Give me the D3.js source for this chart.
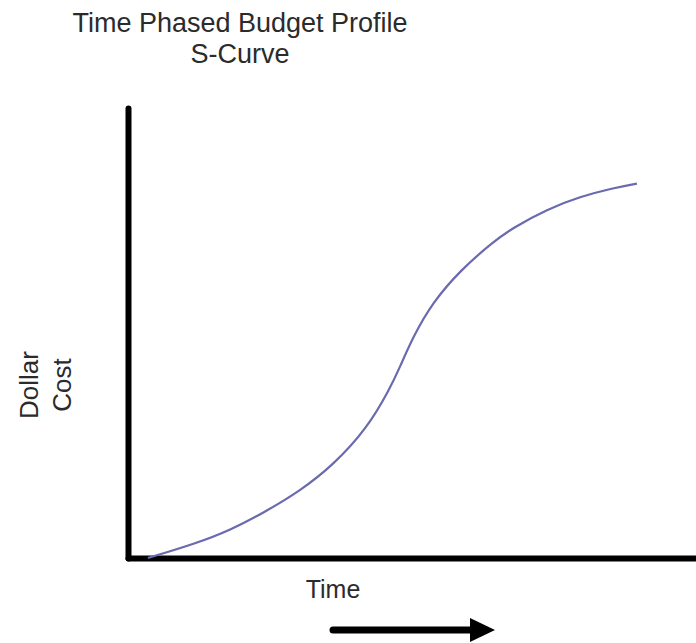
<!DOCTYPE html>
<html>
<head>
<meta charset="utf-8">
<script src="https://cdn.jsdelivr.net/npm/d3@7"></script>
<style>
    body { margin: 0; background: #fff; }
    text { font-family: "Liberation Sans", Arial, sans-serif; fill: #2b2b2b; }
</style>
</head>
<body>
<div id="picture"></div>
<script>
// axes are unitless (0-100)
var timeVals = [3.5, 12.1, 18.0, 23.8, 30.3, 36.1, 42.1, 46.1, 47.9, 50.2, 53.7, 58.5, 64.3, 67.8, 73.8, 79.6, 85.4, 89.6];
var costVals = [0, 3.3, 6.2, 10.0, 14.9, 20.6, 28.8, 37.6, 42.5, 49.2, 56.9, 63.9, 70.3, 73.4, 77.5, 80.3, 82.2, 83.2];
var titleLines = ["Time Phased Budget Profile", "S-Curve"];
var yLabelLines = ["Dollar", "Cost"];
var xLabel = "Time";

function draw() {
    "use strict";

    var width = 696, height = 643;
    var left = 128, right = 696, top = 108, bottom = 558;

    var data = timeVals.map(function (t, i) { return { x: t, val: costVals[i] }; });

    var svg = d3.select("#picture")
        .append("svg")
        .attr("width", width)
        .attr("height", height);

    var x_scale = d3.scaleLinear().range([left, right]).domain([0, 100]);
    var y_scale = d3.scaleLinear().range([bottom, top]).domain([0, 100]);

    // axes: only the domain lines, no ticks
    var x_axis = d3.axisBottom().scale(x_scale).tickValues([]).tickSizeOuter(0);
    var y_axis = d3.axisLeft().scale(y_scale).tickValues([]).tickSizeOuter(0);

    svg.append("g")
        .attr("class", "x_axis")
        .attr("transform", "translate(0, " + bottom + ")")
        .call(x_axis);

    svg.append("g")
        .attr("class", "y_axis")
        .attr("transform", "translate(" + left + ", 0)")
        .call(y_axis);

    svg.selectAll(".x_axis .domain, .y_axis .domain")
        .attr("stroke", "#000")
        .attr("stroke-width", 6)
        .attr("stroke-linecap", "round");

    // basis spline smooths out the reading error between points
    var line = d3.line()
        .curve(d3.curveBasis)
        .x(function (d) { return x_scale(d.x); })
        .y(function (d) { return y_scale(d.val); });

    svg.append("path")
        .attr("d", line(data))
        .attr("fill", "none")
        .attr("stroke", "#6a6aae")
        .attr("stroke-width", 2.2);

    // title
    svg.append("g").selectAll("text")
        .data(titleLines)
        .enter()
        .append("text")
        .attr("x", 240)
        .attr("y", function (d, i) { return 32 + i * 31; })
        .attr("text-anchor", "middle")
        .attr("font-size", 27)
        .text(function (d) { return d; });

    // y label, rotated
    svg.append("g").selectAll("text")
        .data(yLabelLines)
        .enter()
        .append("text")
        .attr("transform", function (d, i) { return "translate(" + (38 + i * 33) + ", 385) rotate(-90)"; })
        .attr("text-anchor", "middle")
        .attr("font-size", 26)
        .text(function (d) { return d; });

    svg.append("text")
        .attr("x", 333)
        .attr("y", 598)
        .attr("text-anchor", "middle")
        .attr("font-size", 25)
        .text(xLabel);

    // direction arrow
    svg.append("line")
        .attr("x1", 333).attr("y1", 630)
        .attr("x2", 474).attr("y2", 630)
        .attr("stroke", "#000")
        .attr("stroke-width", 7)
        .attr("stroke-linecap", "round");
    svg.append("path")
        .attr("d", "M470,618 L495,630 L470,642 Z")
        .attr("fill", "#000");
}

draw();
</script>
</body>
</html>
